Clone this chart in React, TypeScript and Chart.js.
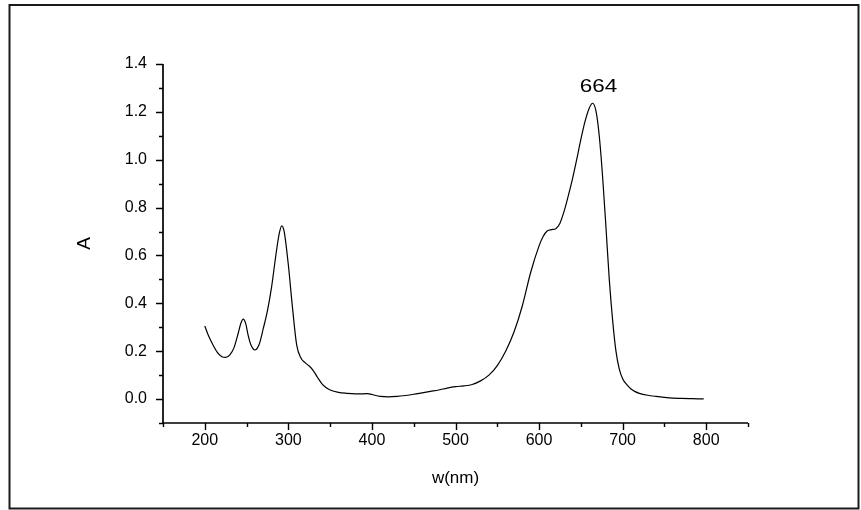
import React, { useEffect, useRef } from "react";
import { Chart, registerables } from "chart.js";

Chart.register(...registerables);

// Wavelength (nm)
const wavelengths = [
  200, 205, 210, 215, 220, 225, 230, 235, 240, 243, 246, 249, 252, 255, 260, 265, 270, 275,
  280, 285, 289, 292, 295, 300, 305, 310, 315, 320, 325, 330, 335, 340, 345, 350, 360,
  370, 380, 390, 395, 400, 410, 420, 430, 440, 450, 460, 470, 480, 490, 500, 510, 520,
  530, 540, 550, 560, 570, 580, 590, 600, 605, 610, 615, 620, 625, 630, 635, 640, 645,
  650, 655, 660, 664, 668, 672, 676, 680, 684, 688, 692, 696, 700, 705, 710, 715, 720,
  730, 740, 750, 760, 770, 780, 790, 797,
];
// Absorbance
const absorbance = [
  0.305, 0.26, 0.225, 0.195, 0.178, 0.174, 0.185, 0.215, 0.275, 0.315, 0.334, 0.315, 0.265,
  0.228, 0.205, 0.228, 0.295, 0.37, 0.47, 0.6, 0.69, 0.724, 0.7, 0.56, 0.38, 0.225, 0.172,
  0.152, 0.138, 0.118, 0.09, 0.065, 0.048, 0.038, 0.028, 0.024, 0.022, 0.022, 0.023, 0.019,
  0.011, 0.009, 0.011, 0.015, 0.02, 0.026, 0.032, 0.038, 0.046, 0.052, 0.055, 0.061, 0.076,
  0.1, 0.14, 0.2, 0.28, 0.39, 0.53, 0.64, 0.68, 0.703, 0.708, 0.712, 0.735, 0.785, 0.85,
  0.92, 1.0, 1.085, 1.16, 1.215, 1.236, 1.205, 1.1, 0.93, 0.72, 0.5, 0.33, 0.2, 0.125,
  0.085, 0.06, 0.042, 0.031, 0.024, 0.016, 0.011, 0.007, 0.004, 0.003, 0.002, 0.001, 0.001,
];

const xTitle = "w(nm)";
const yTitle = "A";
const peakLabel = "664";
const peakWavelength = 664;
const peakValue = 1.236;

const X_MIN = 150;
const X_MAX = 850;
const X_STEP = 50;
const Y_MIN = -0.1;
const Y_MAX = 1.4;
const Y_STEP = 0.1;

const FONT = "'Liberation Sans', Arial, sans-serif";

const originPlugin = {
  id: "originFrame",
  beforeDraw(chart: any) {
    const { ctx, width, height } = chart;
    ctx.save();
    ctx.fillStyle = "#fff";
    ctx.fillRect(0, 0, width, height);
    ctx.restore();
  },
  afterDraw(chart: any) {
    const { ctx, chartArea: ca, scales } = chart;
    const xs = scales.x;
    const ys = scales.y;
    ctx.save();
    // outer frame
    ctx.strokeStyle = "#1a1a1a";
    ctx.lineWidth = 2;
    ctx.strokeRect(9.5, 5, 849, 503.5);

    // axes
    ctx.strokeStyle = "#000";
    ctx.lineWidth = 1.7;
    ctx.beginPath();
    ctx.moveTo(ca.left, ca.top);
    ctx.lineTo(ca.left, ca.bottom);
    ctx.lineTo(ca.right, ca.bottom);
    ctx.stroke();

    // ticks
    ctx.lineWidth = 1.4;
    ctx.beginPath();
    const ny = Math.round((Y_MAX - Y_MIN) / Y_STEP);
    for (let i = 0; i <= ny; i++) {
      const v = Y_MIN + i * Y_STEP;
      const major = Math.round(v * 10) % 2 === 0;
      const py = Math.round(ys.getPixelForValue(v)) + 0.5;
      const len = major ? 7 : 4;
      ctx.moveTo(ca.left - len, py);
      ctx.lineTo(ca.left, py);
    }
    const nx = Math.round((X_MAX - X_MIN) / X_STEP);
    for (let i = 0; i <= nx; i++) {
      const v = X_MIN + i * X_STEP;
      const major = v % 100 === 0;
      const px = Math.round(xs.getPixelForValue(v)) + 0.5;
      const len = major ? 7 : 4;
      ctx.moveTo(px, ca.bottom);
      ctx.lineTo(px, ca.bottom + len);
    }
    ctx.stroke();

    // peak annotation (slightly wide lettering as in the original export)
    ctx.fillStyle = "#000";
    ctx.font = `18px ${FONT}`;
    ctx.textAlign = "center";
    ctx.textBaseline = "middle";
    ctx.translate(xs.getPixelForValue(peakWavelength) + 6, ys.getPixelForValue(peakValue) - 16);
    ctx.scale(1.25, 1);
    ctx.fillText(peakLabel, 0, 0);
    ctx.restore();
  },
};

export default function App() {
  const canvasRef = useRef<HTMLCanvasElement | null>(null);

  useEffect(() => {
    const canvas = canvasRef.current;
    if (!canvas) return;
    const points = wavelengths.map((w, i) => ({ x: w, y: absorbance[i] }));
    const chart = new Chart(canvas, {
      type: "line",
      data: {
        datasets: [
          {
            data: points,
            borderColor: "#000",
            borderWidth: 1.2,
            pointRadius: 0,
            fill: false,
            cubicInterpolationMode: "monotone",
          },
        ],
      },
      options: {
        responsive: false,
        animation: false,
        devicePixelRatio: 1,
        layout: { padding: { top: 64, right: 113, bottom: 0, left: 0 } },
        plugins: { legend: { display: false }, tooltip: { enabled: false } },
        scales: {
          x: {
            type: "linear",
            min: X_MIN,
            max: X_MAX,
            border: { display: false },
            grid: { display: false, drawTicks: false },
            ticks: {
              stepSize: X_STEP,
              autoSkip: false,
              maxRotation: 0,
              padding: 8,
              color: "#000",
              font: { family: FONT, size: 16 },
              callback: (v: any) => (Number(v) % 100 === 0 ? String(v) : ""),
            },
            title: {
              display: true,
              text: xTitle,
              color: "#000",
              font: { family: FONT, size: 17 },
              padding: { top: 0, bottom: 21 },
            },
            afterFit: (scale: any) => {
              scale.height = 87;
            },
          },
          y: {
            type: "linear",
            min: Y_MIN,
            max: Y_MAX,
            border: { display: false },
            grid: { display: false, drawTicks: false },
            ticks: {
              stepSize: Y_STEP,
              autoSkip: false,
              padding: 16,
              color: "#000",
              font: { family: FONT, size: 16 },
              callback: (v: any) => {
                const t = Math.round(Number(v) * 10);
                return t % 2 === 0 && t >= 0 ? (t / 10).toFixed(1) : "";
              },
            },
            title: {
              display: true,
              text: yTitle,
              color: "#000",
              font: { family: FONT, size: 19 },
              padding: { top: 73, bottom: 0 },
            },
            afterFit: (scale: any) => {
              scale.width = 163;
            },
          },
        },
      },
      plugins: [originPlugin],
    });
    return () => chart.destroy();
  }, []);

  return (
    <div style={{ position: "absolute", left: 0, top: 0, width: 861, height: 510 }}>
      <canvas ref={canvasRef} width={861} height={510} />
    </div>
  );
}
